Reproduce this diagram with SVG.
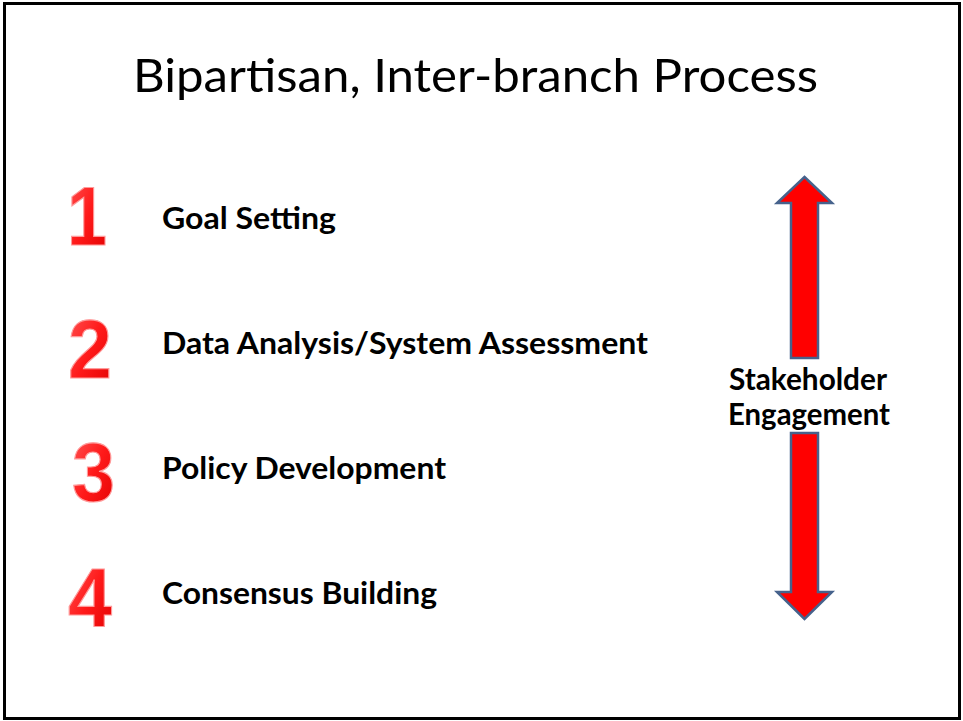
<svg xmlns="http://www.w3.org/2000/svg" width="963" height="721" viewBox="0 0 963 721">
<style>
.title{font-family:Lato,"Open Sans","Liberation Sans",sans-serif;font-size:47px;fill:#000}
.step{font-family:Lato,"Open Sans","Liberation Sans",sans-serif;font-size:30px;font-weight:bold;fill:#000}
.num{font-family:"Liberation Sans",Arial,sans-serif;font-size:84px;font-weight:bold;fill:url(#redg);stroke:#ff9a9a;stroke-width:1.2}
.arrow{fill:#ff0000;stroke:#46628c;stroke-width:2.5;stroke-linejoin:miter}
</style>
<defs>
<linearGradient id="redg" x1="0" y1="0" x2="1" y2="1">
<stop offset="0" stop-color="#ff5a5a"/>
<stop offset="0.5" stop-color="#ff1a1a"/>
<stop offset="1" stop-color="#e00000"/>
</linearGradient>
</defs>
<rect x="4.5" y="3.5" width="955" height="715" fill="#fff" stroke="#000" stroke-width="3"/>
<g id="title"><text class="title" x="133" y="92" textLength="685" lengthAdjust="spacingAndGlyphs">Bipartisan, Inter-branch Process</text></g>
<g id="step1"><text class="num" x="67" y="245" textLength="40" lengthAdjust="spacingAndGlyphs">1</text><text class="step" x="162" y="229" textLength="174" lengthAdjust="spacingAndGlyphs">Goal Setting</text></g>
<g id="step2"><text class="num" x="68" y="378" textLength="44" lengthAdjust="spacingAndGlyphs">2</text><text class="step" x="162" y="354" textLength="486" lengthAdjust="spacingAndGlyphs">Data Analysis/System Assessment</text></g>
<g id="step3"><text class="num" x="72" y="501" textLength="43" lengthAdjust="spacingAndGlyphs">3</text><text class="step" x="162" y="479" textLength="284" lengthAdjust="spacingAndGlyphs">Policy Development</text></g>
<g id="step4"><text class="num" x="68" y="627" textLength="44" lengthAdjust="spacingAndGlyphs">4</text><text class="step" x="162" y="604" textLength="275" lengthAdjust="spacingAndGlyphs">Consensus Building</text></g>
<g id="connectors">
<polygon class="arrow" points="804.5,177 832,203 818,203 818,358 791,358 791,203 777,203"/>
<polygon class="arrow" points="791,433 818,433 818,592 832,592 804.5,619 777,592 791,592"/>
</g>
<g id="stakeholder"><text class="step" x="729" y="390" textLength="158" lengthAdjust="spacingAndGlyphs">Stakeholder</text><text class="step" x="728" y="425" textLength="162" lengthAdjust="spacingAndGlyphs">Engagement</text></g>
</svg>
